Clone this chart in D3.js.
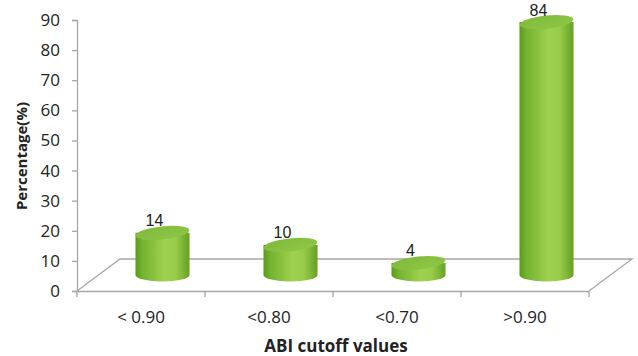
<!DOCTYPE html>
<html>
<head>
<meta charset="utf-8">
<script src="https://cdn.jsdelivr.net/npm/d3@7"></script>
<style>
  body { margin: 0; background: #fff; }
  text { font-family: "Open Sans", "Liberation Sans", sans-serif; }
</style>
</head>
<body>
<div id="chart"></div>
<script>
"use strict";

// data
const categories = ["< 0.90", "<0.80", "<0.70", ">0.90"];
const values = [14, 10, 4, 84];
const yTicks = [0, 10, 20, 30, 40, 50, 60, 70, 80, 90];

const svgWidth = 638,
    svgHeight = 356;

const svg = d3.select("#chart").append("svg")
    .attr("width", svgWidth)
    .attr("height", svgHeight);

// plot frame
const plotLeft = 77, plotRight = 589, plotBottom = 291, plotTop = 20;
const depthX = 43, depthY = -32;
const cylW = 54, cylRy = 6.5;
const fontSize = 17;

const x = d3.scaleBand().domain(categories).range([plotLeft, plotRight]);
const y = d3.scaleLinear().domain([0, 90]).range([plotBottom, plotTop]);

// gradients
const defs = svg.append("defs");
const body = defs.append("linearGradient").attr("id", "cylBody")
    .attr("x1", "0%").attr("x2", "100%").attr("y1", "0%").attr("y2", "0%");
[["0%", "#5a9a1c"], ["12%", "#74b22e"], ["55%", "#a0d252"], ["75%", "#98cb4a"], ["100%", "#63a122"]]
    .forEach(s => body.append("stop").attr("offset", s[0]).attr("stop-color", s[1]));
const topG = defs.append("linearGradient").attr("id", "cylTop")
    .attr("x1", "0%").attr("x2", "100%").attr("y1", "0%").attr("y2", "100%");
[["0%", "#80ba3b"], ["100%", "#8fc646"]]
    .forEach(s => topG.append("stop").attr("offset", s[0]).attr("stop-color", s[1]));

// floor
svg.append("path")
    .attr("d", `M${plotLeft},${plotBottom} L${plotLeft + depthX},${plotBottom + depthY} L${plotRight + depthX},${plotBottom + depthY} L${plotRight},${plotBottom}`)
    .attr("fill", "none")
    .attr("stroke", "#a6a6a6")
    .attr("stroke-width", 1.3);

// y axis
const yAxis = svg.append("g")
    .attr("transform", `translate(${plotLeft},0)`)
    .call(d3.axisLeft(y).tickValues(yTicks).tickSize(5).tickPadding(12));
yAxis.select(".domain").attr("stroke", "#a6a6a6").attr("stroke-width", 1.3);
yAxis.selectAll(".tick line").attr("stroke", "#a6a6a6").attr("stroke-width", 1.3);
yAxis.selectAll(".tick text")
    .attr("font-size", fontSize)
    .attr("fill", "#222")
    .style("font-family", "'Open Sans', sans-serif");

// x axis
const xAxis = svg.append("g")
    .attr("transform", `translate(0,${plotBottom})`)
    .call(d3.axisBottom(x).tickSize(0).tickPadding(20));
xAxis.select(".domain").attr("stroke", "#a6a6a6").attr("stroke-width", 1.3);
xAxis.selectAll(".tick text")
    .attr("font-size", fontSize)
    .attr("fill", "#222")
    .style("font-family", "'Open Sans', sans-serif");
// category separators
svg.append("g").selectAll("line")
    .data(categories)
    .enter().append("line")
    .attr("x1", d => x(d))
    .attr("x2", d => x(d))
    .attr("y1", plotBottom)
    .attr("y2", plotBottom + 6)
    .attr("stroke", "#a6a6a6")
    .attr("stroke-width", 1.3);
svg.append("line")
    .attr("x1", plotRight).attr("x2", plotRight)
    .attr("y1", plotBottom).attr("y2", plotBottom + 6)
    .attr("stroke", "#a6a6a6").attr("stroke-width", 1.3);

// cylinders
const cx = d => x(d) + x.bandwidth() / 2 + depthX / 2;
const baseY = y(0) + depthY / 2;
const rx = cylW / 2;

const cyl = svg.append("g").selectAll("g")
    .data(categories.map((c, i) => ({ c: c, v: values[i] })))
    .enter().append("g");

cyl.append("path")
    .attr("d", d => {
        const c = cx(d.c);
        const t = y(d.v) + depthY / 2;
        return `M${c - rx},${t} L${c - rx},${baseY} A${rx},${cylRy} 0 0 0 ${c + rx},${baseY} L${c + rx},${t} Z`;
    })
    .attr("fill", "url(#cylBody)");

cyl.append("ellipse")
    .attr("cx", d => cx(d.c))
    .attr("cy", d => y(d.v) + depthY / 2)
    .attr("rx", rx)
    .attr("ry", cylRy)
    .attr("transform", d => `rotate(-6 ${cx(d.c)} ${y(d.v) + depthY / 2})`)
    .attr("fill", "url(#cylTop)");

// value labels
cyl.append("text")
    .attr("x", d => cx(d.c) - 8)
    .attr("y", d => y(d.v) + depthY / 2 - cylRy)
    .attr("text-anchor", "middle")
    .attr("font-size", 16)
    .attr("fill", "#222")
    .style("font-family", "'Liberation Sans', sans-serif")
    .text(d => d.v);

// axis titles
svg.append("text")
    .attr("x", 336)
    .attr("y", 352)
    .attr("text-anchor", "middle")
    .attr("font-size", 17)
    .attr("font-weight", "bold")
    .attr("fill", "#222")
    .text("ABI cutoff values");

svg.append("text")
    .attr("transform", "translate(27,156) rotate(-90)")
    .attr("text-anchor", "middle")
    .attr("font-size", 15)
    .attr("font-weight", "bold")
    .attr("fill", "#222")
    .text("Percentage(%)");
</script>
</body>
</html>
